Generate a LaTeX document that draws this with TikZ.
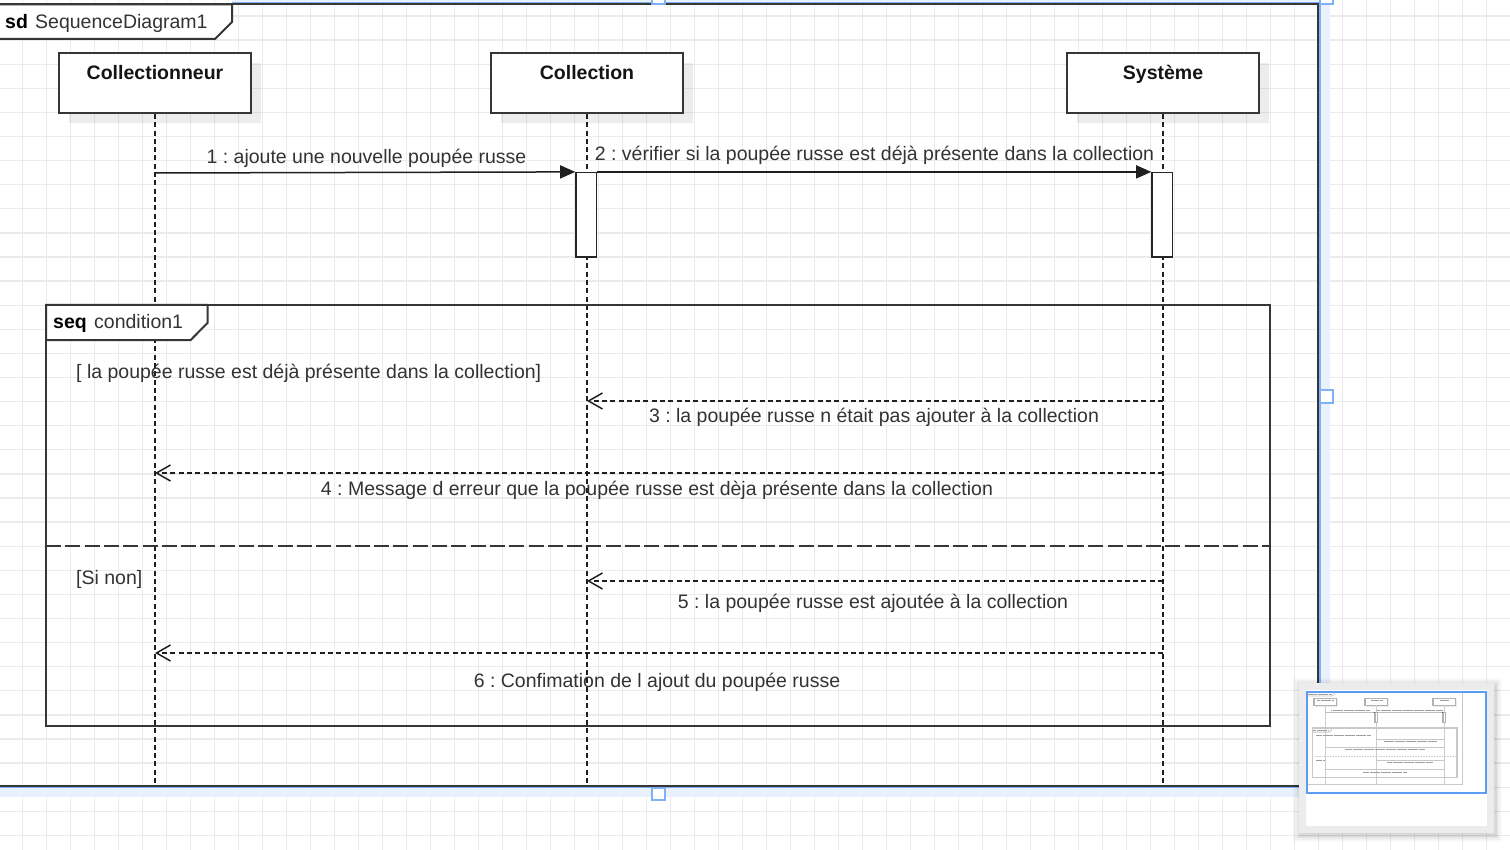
\documentclass[tikz,border=0pt]{standalone}
\usepackage{fontspec}
\setmainfont{Liberation Sans}
\usetikzlibrary{arrows.meta,shadows}
\frenchspacing

\definecolor{gridln}{HTML}{EBEBEB}
\definecolor{ink}{HTML}{333333}
\definecolor{edge}{HTML}{363636}
\definecolor{selband}{HTML}{E8F1FD}
\definecolor{selline}{HTML}{7FB1F7}
\definecolor{navblue}{HTML}{5C9CF2}
\definecolor{navgray}{HTML}{ECECEC}
\definecolor{thumbln}{HTML}{C8C8C8}

\begin{document}
\begin{tikzpicture}[x=1pt,y=-1pt,
  txt/.style={font=\fontsize{19.5}{23}\selectfont, text=ink, inner sep=0pt},
  msglabel/.style={txt, anchor=base},
  kw/.style={txt, anchor=base west, font=\fontsize{19.5}{23}\selectfont\bfseries, text=black},
  lifebox/.style={draw=edge, line width=2pt, fill=white,
    minimum width=192pt, minimum height=60pt, text height=14pt, text depth=21pt,
    font=\fontsize{19.5}{23}\selectfont\bfseries, text=black!92,
    drop shadow={shadow xshift=10pt, shadow yshift=-10pt, opacity=0.07, fill=black}},
  lifeline/.style={draw=black!88, line width=1.5pt, dash pattern=on 5pt off 3.3pt},
  actbox/.style={draw=black!85, line width=1.6pt, fill=white, inner sep=0pt,
    minimum width=20.6pt, minimum height=84.6pt},
  callmsg/.style={draw=black!88, line width=1.5pt, -{Triangle[length=15pt,width=13pt]}},
  retmsg/.style={draw=black!88, line width=1.5pt, dash pattern=on 5pt off 3.3pt,
    -{Straight Barb[length=14pt,width=16pt]}},
  framebox/.style={draw=edge, line width=2pt},
  handle/.style={draw=selline, line width=2pt, fill=white},
  thumbtext/.style={draw=black!38, line width=0.9pt, dash pattern=on 0.6pt off 0.5pt}
]
\useasboundingbox (0,0) rectangle (1510,850);
\clip (0,0) rectangle (1510,850);

% canvas grid
\fill[white] (0,0) rectangle (1510,850);
\foreach \i in {0,...,63} \draw[gridln, line width=1.3pt] ({22.7+24*(\i-1)},0) -- ++(0,850);
\foreach \j in {0,...,36} \draw[gridln, line width=1.3pt] (0,{16+24.1*(\j-1)}) -- ++(1510,0);

% selection highlight around the sd frame
\fill[selband] (232,-6) rectangle (1330,3.5);
\fill[selband] (1319,-6) rectangle (1330,797);
\fill[selband] (-5,786.5) rectangle (1330,797);
\draw[selline, line width=1.5pt] (232,3.2) -- (1320.2,3.2) -- (1320.2,787.4) -- (-5,787.4);

% sd frame
\draw[framebox] (-3,4.5) rectangle (1318,785.5);
\draw[framebox, fill=white] (-3,4.5) -- (232,4.5) -- (232,22) -- (215,39) -- (-3,39) -- cycle;
\node[kw] (sdkw) at (5,28.3) {sd};
\node[txt, anchor=base west] (sdname) at (35,28.3) {SequenceDiagram1};

% lifeline heads
\node[lifebox] (hA) at (155,83) {Collectionneur};
\node[lifebox] (hB) at (587,83) {Collection};
\node[lifebox] (hC) at (1163,83) {Système};

% lifelines
\coordinate (endA) at (155,786);
\coordinate (endB) at (587,786);
\coordinate (endC) at (1163,786);
\draw[lifeline] (hA.south) -- (endA);
\draw[lifeline] (hB.south) -- (endB);
\draw[lifeline] (hC.south) -- (endC);

% activations
\node[actbox] (actB) at (586.3,215) {};
\node[actbox] (actC) at (1162.3,215) {};

% synchronous calls
\coordinate (m1s) at (155,173);
\draw[callmsg] (m1s) -- (actB.north west);
\draw[callmsg] (actB.north east) -- (actC.north west);
\node[msglabel] (l1) at (366.5,164) {1 : ajoute une nouvelle poupée russe};
\node[msglabel] (l2) at (874.5,161) {2 : vérifier si la poupée russe est déjà présente dans la collection};

% seq fragment
\draw[framebox] (46,305) rectangle (1270,726);
\draw[framebox, fill=white] (46,305) -- (207.7,305) -- (207.7,322.7) -- (190.7,340) -- (46,340) -- cycle;
\node[kw] (seqkw) at (53,328.3) {seq};
\node[txt, anchor=base west] (seqname) at (94,328.3) {condition1};
\draw[draw=edge, line width=2.4pt, dash pattern=on 15pt off 4.3pt] (46,546) -- (1270,546);

\node[txt, anchor=base west] (g1) at (76,378) {[ la poupée russe est déjà présente dans la collection]};
\node[txt, anchor=base west] (g2) at (76,584) {[Si non]};

% replies
\coordinate (r3s) at (1163,401); \coordinate (r3e) at (587,401);
\coordinate (r4s) at (1163,473); \coordinate (r4e) at (155,473);
\coordinate (r5s) at (1163,581); \coordinate (r5e) at (587,581);
\coordinate (r6s) at (1163,653); \coordinate (r6e) at (155,653);
\draw[retmsg] (r3s) -- (r3e);
\draw[retmsg] (r4s) -- (r4e);
\draw[retmsg] (r5s) -- (r5e);
\draw[retmsg] (r6s) -- (r6e);
\node[msglabel] (l3) at (874,422) {3 : la poupée russe n était pas ajouter à la collection};
\node[msglabel] (l4) at (657,495) {4 : Message d erreur que la poupée russe est dèja présente dans la collection};
\node[msglabel] (l5) at (873,608) {5 : la poupée russe est ajoutée à la collection};
\node[msglabel] (l6) at (657,687) {6 : Confimation de l ajout du poupée russe};

% selection handles
\draw[handle] (651.5,-9) rectangle (664.5,4.2);
\draw[handle] (1319.8,-9) rectangle (1332.5,4.2);
\draw[handle] (1319.5,389.5) rectangle (1332.5,402.5);
\draw[handle] (651.5,787.5) rectangle (664.5,800);

% outline navigator
\foreach \k/\o in {7/0.025,5/0.035,3/0.045,1.5/0.05}
  \fill[black, opacity=\o] ({1299-\k+1},{683-\k+2}) rectangle ({1494+\k+1},{833+\k+2});
\fill[navgray] (1299,683) rectangle (1494,833);
\fill[white] (1306,690) rectangle (1487,826);
\begin{scope}[shift={(1307,692)}, scale=0.118]
  \draw[thumbln, line width=1.4pt] (0,0) rectangle (1318,786);
  \draw[thumbln, line width=0.8pt, fill=white] (0,0) -- (232,0) -- (232,17) -- (215,34) -- (0,34) -- cycle;
  \foreach \cx in {155,587,1163}{
    \fill[black!8] ({\cx-86},63) rectangle ({\cx+106},123);
    \draw[black!30, line width=1.4pt, fill=white] ({\cx-96},53) rectangle ({\cx+96},113);
    \draw[black!20, line width=0.8pt] (\cx,113) -- (\cx,786);
  }
  \draw[black!25, line width=0.8pt] (155,173) -- (1152,173);
  \foreach \cx in {586,1162}{
    \draw[black!30, line width=1.2pt, fill=white] ({\cx-10},173) rectangle ({\cx+10},257);
    \fill[black!75] ({\cx-22},168) rectangle ({\cx-8},178);
  }
  \draw[thumbln, line width=1.4pt] (46,305) rectangle (1270,726);
  \draw[thumbln, line width=0.8pt] (46,305) -- (207,305) -- (207,322) -- (190,340) -- (46,340);
  \draw[black!20, line width=0.8pt, dash pattern=on 1pt off 0.6pt] (46,546) -- (1270,546);
  \foreach \yy/\xe in {401/587,473/155,581/587,653/155}
    \draw[black!22, line width=0.8pt] (1163,\yy) -- (\xe,\yy);
  \foreach \xa/\xb/\yy in {5/207/22, 53/183/322, 87/222/72, 540/634/72, 1123/1203/72,
      207/526/157, 595/1154/154, 76/541/371, 649/1099/415, 321/993/488,
      76/142/577, 678/1068/601, 474/840/680}
    \draw[thumbtext] (\xa,\yy) -- (\xb,\yy);
\end{scope}
\draw[navblue, line width=2pt] (1307,692) rectangle (1486,793);
\end{tikzpicture}
\end{document}
